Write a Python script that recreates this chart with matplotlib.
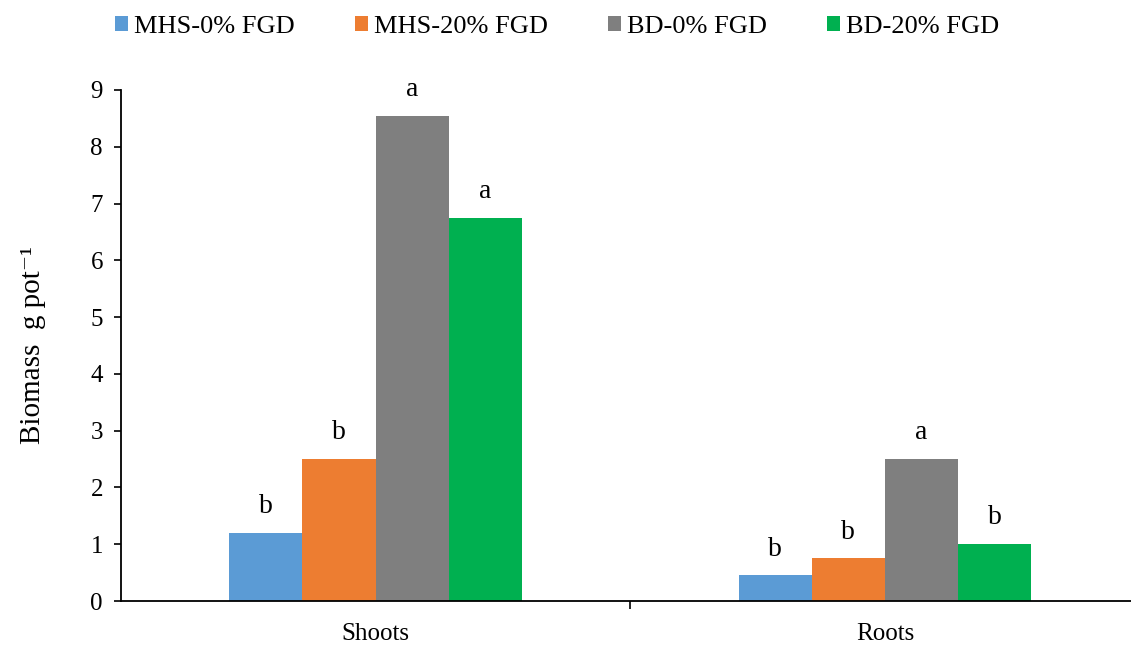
import matplotlib
matplotlib.use("Agg")
import matplotlib.pyplot as plt
import numpy as np

plt.rcParams["font.family"] = ["Liberation Serif", "DejaVu Serif"]

# Biomass per pot for each tissue and treatment
categories = ["Shoots", "Roots"]
series_names = ["MHS-0% FGD", "MHS-20% FGD", "BD-0% FGD", "BD-20% FGD"]
values = {
    "MHS-0% FGD": [1.2, 0.45],
    "MHS-20% FGD": [2.5, 0.75],
    "BD-0% FGD": [8.55, 2.5],
    "BD-20% FGD": [6.75, 1.0],
}
letters = {
    "MHS-0% FGD": ["b", "b"],
    "MHS-20% FGD": ["b", "b"],
    "BD-0% FGD": ["a", "a"],
    "BD-20% FGD": ["a", "b"],
}
colors = ["#5B9BD5", "#ED7D31", "#7F7F7F", "#00B050"]

W, H = 1131, 646
fig = plt.figure(figsize=(W / 100, H / 100), dpi=100)
ax = fig.add_axes([121 / W, 45 / H, (W - 121) / W, (601 - 90) / H])

x = np.arange(len(categories))
bw = 0.1437
offsets = (np.arange(len(series_names)) - 1.5) * bw
handles = []
for i, name in enumerate(series_names):
    bars = ax.bar(x + offsets[i], values[name], width=bw, color=colors[i],
                  edgecolor="none", label=name, zorder=2)
    handles.append(bars)
    for xi, v, lab in zip(x + offsets[i], values[name], letters[name]):
        ax.annotate(lab, (xi, v), xytext=(0, 10), textcoords="offset points",
                    ha="center", va="bottom", fontsize=20)

ax.set_xlim(-0.5, 1.483)
ax.set_ylim(0, 9)
ax.set_yticks(range(0, 10))
ax.tick_params(axis="y", labelsize=18, length=5, width=1.2, direction="out", pad=8)
ax.set_xticks(x)
ax.set_xticklabels(categories, fontsize=18)
ax.tick_params(axis="x", length=0, pad=16)
# category separator tick
ax.set_xticks([0.5], minor=True)
ax.tick_params(axis="x", which="minor", length=6, width=1.2, direction="out")

for s in ["top", "right"]:
    ax.spines[s].set_visible(False)
for s in ["left", "bottom"]:
    ax.spines[s].set_linewidth(1.3)

ax.set_ylabel("Biomass  g pot\u207b\u00b9", fontsize=21)
ax.yaxis.set_label_coords(-(121 - 46) / (W - 121), 0.5)

fig.legend(handles=handles, labels=series_names, loc="upper center",
           bbox_to_anchor=(557 / W, 1.0), ncol=4, frameon=False, fontsize=19,
           handlelength=0.5, handleheight=0.5, handletextpad=0.2,
           columnspacing=2.3, borderaxespad=0.2)

fig.savefig("out.png", dpi=100)
